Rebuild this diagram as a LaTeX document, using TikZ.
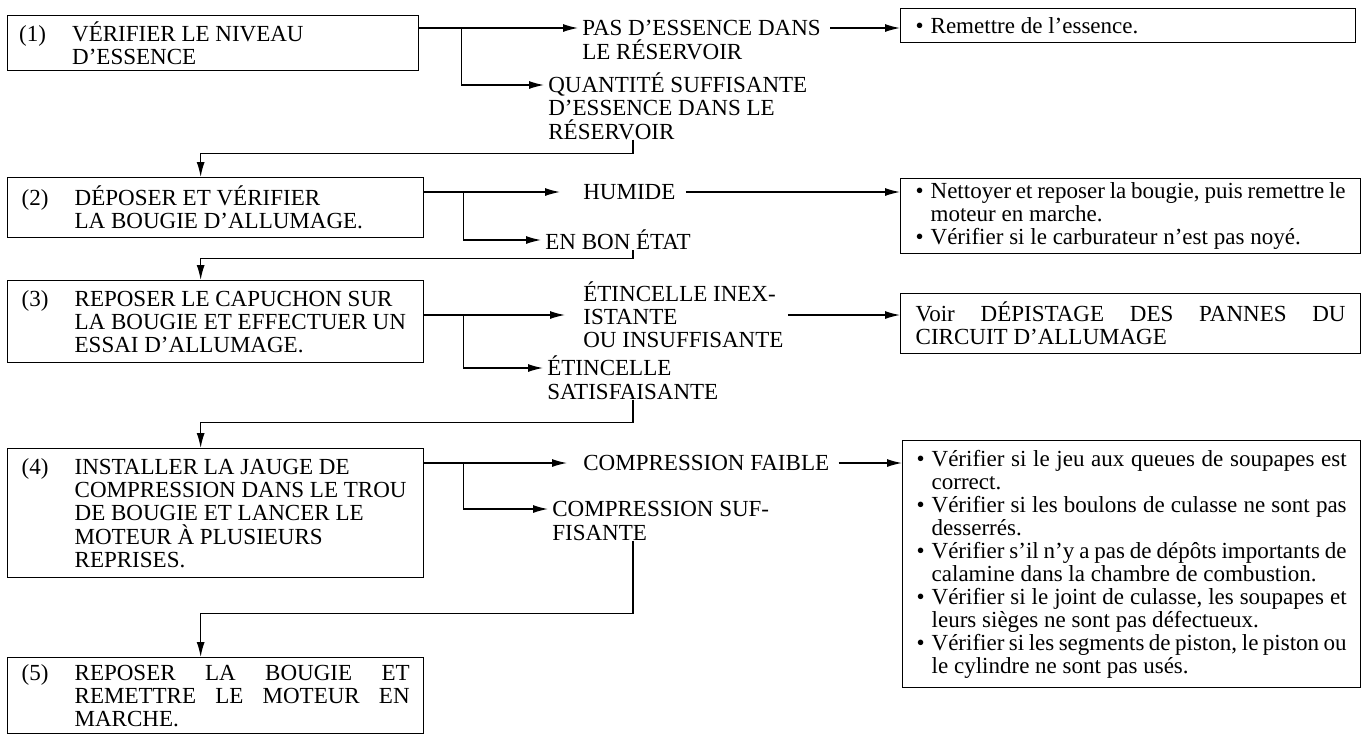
\documentclass[tikz,border=0pt]{standalone}
\usepackage{fontspec}
\setmainfont{Liberation Serif}
\usetikzlibrary{arrows.meta}

\newcommand{\numetape}[2]{\makebox[1.06cm][l]{(#1)}\parbox[t]{6.7cm}{#2}}
\newcommand{\puce}[1]{\par\noindent\hangindent=0.3cm\hangafter=1\makebox[0.3cm][l]{\textbullet}#1}
\newcommand{\ligne}[1]{\makebox[\linewidth][s]{#1}}
\newcommand{\lignepuce}[1]{\makebox[\dimexpr\linewidth-0.3cm\relax][s]{#1}}

\begin{document}
\begin{tikzpicture}[
  font=\fontsize{13.1}{13.1}\selectfont,
  etape/.style={draw, line width=0.75pt, anchor=north west, inner sep=0pt, minimum width=8.32cm},
  remede/.style={draw, line width=0.75pt, anchor=north west, inner sep=0pt, minimum width=9.2cm},
  issue/.style={inner xsep=0.08cm, inner ysep=0pt, align=left},
  fleche/.style={line width=0.75pt, -{Latex[length=3mm, width=1.6mm]}},
]
\useasboundingbox (0,0) rectangle (27.32,-14.68);

% Steps
\node[etape, minimum width=8.22cm, minimum height=1.1cm] (e1) at (0.14,-0.30) {\numetape{1}{VÉRIFIER LE NIVEAU\\D’ESSENCE}};
\node[etape, minimum height=1.2cm] (e2) at (0.14,-3.54) {\numetape{2}{DÉPOSER ET VÉRIFIER\\LA BOUGIE D’ALLUMAGE.}};
\node[etape, minimum height=1.64cm] (e3) at (0.14,-5.60) {\numetape{3}{REPOSER LE CAPUCHON SUR\\LA BOUGIE ET EFFECTUER UN\\ESSAI D’ALLUMAGE.}};
\node[etape, minimum height=2.58cm] (e4) at (0.14,-8.96) {\numetape{4}{INSTALLER LA JAUGE DE\\COMPRESSION DANS LE TROU\\DE BOUGIE ET LANCER LE\\MOTEUR À PLUSIEURS\\REPRISES.}};
\node[etape, minimum height=1.52cm] (e5) at (0.14,-13.14) {\numetape{5}{\ligne{REPOSER LA BOUGIE ET}\\\ligne{REMETTRE LE MOTEUR EN}\\MARCHE.}};

% Results (base = last line)
\node[issue, anchor=base west] (pas) at (11.56,-1.18) {PAS D’ESSENCE DANS\\LE RÉSERVOIR};
\node[issue, anchor=base west] (quant) at (10.88,-2.78) {QUANTITÉ SUFFISANTE\\D’ESSENCE DANS LE\\RÉSERVOIR};
\node[issue, anchor=west] (humide) at (11.58,-3.84) {HUMIDE};
\node[issue, anchor=west] (bon) at (10.82,-4.80) {EN BON ÉTAT};
\node[issue, anchor=west] (etinA) at (11.58,-6.30) {ÉTINCELLE INEX-\\ISTANTE\\OU INSUFFISANTE};
\node[issue, anchor=base west] (etinB) at (10.86,-7.98) {ÉTINCELLE\\SATISFAISANTE};
\node[issue, anchor=west] (faible) at (11.58,-9.26) {COMPRESSION FAIBLE};
\node[issue, anchor=base west] (suf) at (10.96,-10.80) {COMPRESSION SUF-\\FISANTE};

\coordinate (pasA) at ([yshift=0.62cm]pas.base west);
\coordinate (quantA) at ([yshift=1.08cm]quant.base west);
\coordinate (etinBA) at ([yshift=0.62cm]etinB.base west);
\coordinate (sufA) at ([yshift=0.62cm]suf.base west);

% Remedies
\node[remede, minimum width=9.1cm, minimum height=0.68cm] (s1) at (18.00,-0.16) {\parbox{8.5cm}{\puce{Remettre de l’essence.}}};
\node[remede, minimum height=1.5cm] (s2) at (18.00,-3.56) {\parbox{8.6cm}{%
  \puce{\lignepuce{Nettoyer et reposer la bougie, puis remettre le}\\moteur en marche.}
  \puce{Vérifier si le carburateur n’est pas noyé.}}};
\node[remede, minimum height=1.2cm] (s3) at (18.00,-5.86) {\parbox{8.6cm}{\ligne{Voir DÉPISTAGE DES PANNES DU}\\CIRCUIT D’ALLUMAGE}};
\node[remede, minimum width=9.16cm, minimum height=4.94cm] (s4) at (18.04,-8.80) {\parbox{8.6cm}{%
  \puce{\lignepuce{Vérifier si le jeu aux queues de soupapes est}\\correct.}
  \puce{\lignepuce{Vérifier si les boulons de culasse ne sont pas}\\desserrés.}
  \puce{\lignepuce{Vérifier s’il n’y a pas de dépôts importants de}\\calamine dans la chambre de combustion.}
  \puce{\lignepuce{Vérifier si le joint de culasse, les soupapes et}\\leurs sièges ne sont pas défectueux.}
  \puce{\lignepuce{Vérifier si les segments de piston, le piston ou}\\le cylindre ne sont pas usés.}}};

% Step 1
\draw[fleche] (e1.east |- pasA) -- (pasA);
\draw[fleche] (e1.east |- pasA) ++(0.84,0) |- (quantA);
\draw[fleche, shorten <=0.1cm] (pas.east |- pasA) -- (s1.west |- pasA);
\draw[fleche] ([xshift=1.78cm]quant.south west) -- ++(0,-0.28) -| ([xshift=-0.3cm]e2.north);

% Step 2
\draw[fleche, shorten >=0.38cm] (e2.east |- humide.west) -- (humide.west);
\draw[fleche] (e2.east |- humide.west) ++(0.78,0) |- (bon.west);
\draw[fleche, shorten <=0.12cm] (humide.east) -- (s2.west |- humide.east);
\draw[fleche] ([xshift=1.84cm]bon.south west) -- ++(0,-0.16) -| ([xshift=-0.3cm]e3.north);

% Step 3
\draw[fleche, shorten >=0.28cm] (e3.east |- etinA.west) -- (etinA.west);
\draw[fleche] (e3.east |- etinA.west) ++(0.78,0) |- (etinBA);
\draw[fleche] (etinA.east) -- (s3.west |- etinA.east);
\draw[fleche] ([xshift=1.8cm]etinB.south west) -- ++(0,-0.46) -| ([xshift=-0.3cm]e4.north);

% Step 4
\draw[fleche, shorten >=0.24cm] (e4.east |- faible.west) -- (faible.west);
\draw[fleche] (e4.east |- faible.west) ++(0.78,0) |- (sufA);
\draw[fleche, shorten <=0.1cm] (faible.east) -- (s4.west |- faible.east);
\draw[fleche] ([xshift=1.7cm]suf.south west) -- ++(0,-1.46) -| ([xshift=-0.3cm]e5.north);
\end{tikzpicture}
\end{document}
